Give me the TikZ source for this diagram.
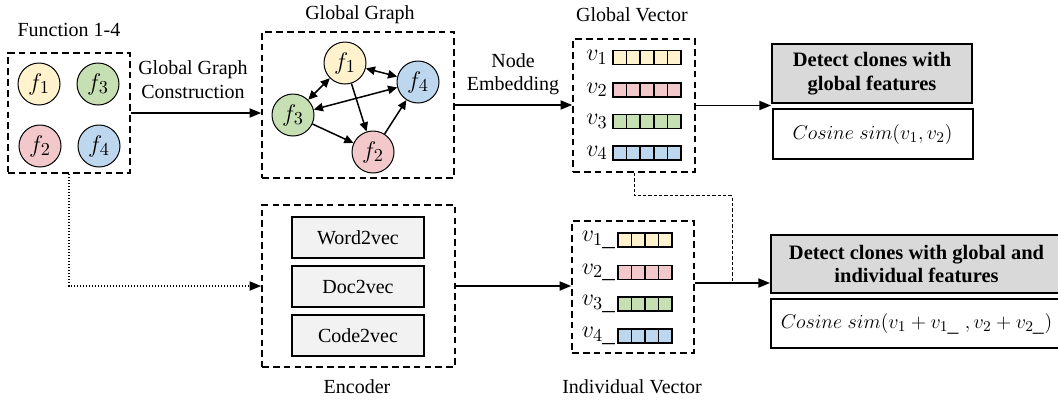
\documentclass[tikz,border=0pt]{standalone}
\usepackage{fontspec}
\setmainfont{Liberation Serif}
\usetikzlibrary{arrows.meta,calc}
\definecolor{cy}{HTML}{FFF2CC}
\definecolor{cp}{HTML}{F2C8CB}
\definecolor{cg}{HTML}{C6E0B4}
\definecolor{cb}{HTML}{BDD7EE}
\definecolor{encgray}{HTML}{F2F2F2}
\definecolor{detgray}{HTML}{D9D9D9}
\begin{document}
\begin{tikzpicture}[x=0.6pt,y=-0.6pt,
  font=\fontsize{12}{14}\selectfont,
  grp/.style={draw, dash pattern=on 4pt off 2.5pt, line width=1pt, inner sep=0pt},
  fn/.style={circle, draw, line width=0.6pt, minimum size=25.2pt, inner sep=0pt, font=\fontsize{15}{15}\selectfont},
  arr/.style={-{Triangle[length=7pt,width=5.5pt]}, line width=0.9pt},
  garr/.style={-{Triangle[length=5.5pt,width=5pt]}, line width=0.9pt},
  darr/.style={{Triangle[length=5.5pt,width=5pt]}-{Triangle[length=5.5pt,width=5pt]}, line width=0.9pt},
  encbx/.style={draw, line width=0.9pt, fill=encgray, minimum width=79.2pt, minimum height=24.6pt, inner sep=0pt},
  detbox/.style={draw, line width=1.2pt, fill=detgray, align=center, inner sep=0pt, font=\fontsize{12.3}{14}\selectfont\bfseries},
  cosbox/.style={draw, line width=1.2pt, fill=white, inner sep=0pt, font=\fontsize{13}{14}\selectfont},
  vlab/.style={anchor=east, inner sep=0pt, font=\fontsize{15}{15}\selectfont},
  cell/.style={draw, line width=0.9pt},
  ttl/.style={inner sep=0pt}
]
\useasboundingbox (0,0) rectangle (1058,400);

% group boxes
\node[grp, minimum width=73.2pt, minimum height=72pt] (fbox) at (69,113) {};
\node[grp, minimum width=115.2pt, minimum height=87.6pt] (ggbox) at (358,105) {};
\node[grp, minimum width=73.2pt, minimum height=79.8pt] (gvbox) at (634,105.5) {};
\node[grp, minimum width=115.8pt, minimum height=97.2pt] (encbox) at (358.5,286) {};
\node[grp, minimum width=73.2pt, minimum height=79.2pt] (ivbox) at (633,287) {};

% titles
\node[ttl] (tfun) at (69,30) {Function 1-4};
\node[ttl] (tgg) at (360,15) {Global Graph};
\node[ttl] (tgv) at (632,15) {Global Vector};
\node[ttl] (tenc) at (357,387) {Encoder};
\node[ttl] (tiv) at (632,387) {Individual Vector};
\node[ttl, align=center] (lggc) at (193,79.5) {Global Graph\\Construction};
\node[ttl, align=center] (lne) at (513,74) {Node\\Embedding};

% function circles
\node[fn, fill=cy] (a1) at (39,84) {$f_1$};
\node[fn, fill=cg] (a3) at (98,84) {$f_3$};
\node[fn, fill=cp] (a2) at (40,146) {$f_2$};
\node[fn, fill=cb] (a4) at (99,146) {$f_4$};

% global graph circles
\node[fn, fill=cy] (g1) at (345,63) {$f_1$};
\node[fn, fill=cb] (g4) at (418,82) {$f_4$};
\node[fn, fill=cg] (g3) at (293,115) {$f_3$};
\node[fn, fill=cp] (g2) at (373,152) {$f_2$};
\draw[darr] (g1) -- (g3);
\draw[darr] (g1) -- (g4);
\draw[darr] (g4) -- (g3);
\draw[garr] (g1) -- (g2);
\draw[garr] (g3) -- (g2);
\draw[garr] (g2) -- (g4);

% global vectors
\foreach \y/\c/\n in {57.5/cy/1, 90/cp/2, 121.5/cg/3, 153/cb/4} {
  \node[vlab] (gv\n) at (608,\y) {$v_\n$};
  \foreach \i in {0,...,4}
    \draw[cell, fill=\c] ({613+13.6*\i},{\y-7}) rectangle ++(13.6,14);
}
% individual vectors
\foreach \y/\c/\n in {240/cy/1, 272.5/cp/2, 304/cg/3, 336/cb/4} {
  \node[vlab] (iv\n) at (616,\y) {$v_{\n\_}$};
  \foreach \i in {0,...,3}
    \draw[cell, fill=\c] ({618+13.5*\i},{\y-7}) rectangle ++(13.5,14);
}

% encoder boxes
\node[encbx] (w2v) at (358,237.5) {Word2vec};
\node[encbx] (d2v) at (358,286.5) {Doc2vec};
\node[encbx] (c2v) at (358,335.5) {Code2vec};

% detect boxes
\node[detbox, minimum width=120pt, minimum height=35.4pt] (det1) at (872,73.5) {Detect clones with\\global features};
\node[cosbox, minimum width=120pt, minimum height=30pt] (cos1) at (872.5,134) {$Cosine\ sim(v_1,v_2)$};
\node[detbox, minimum width=174.6pt, minimum height=34.8pt] (det2) at (916.5,264) {Detect clones with global and\\individual features};
\node[cosbox, minimum width=174.6pt, minimum height=29.4pt] (cos2) at (916.5,323.5) {$Cosine\ sim(v_1+v_{1\_}\;,v_2+v_{2\_})$};

% connectors
\draw[arr] (fbox.east) -- (fbox.east -| ggbox.west);
\draw[arr] (ggbox.east) -- (ggbox.east -| gvbox.west);
\draw[arr] (gvbox.east) -- (gvbox.east -| det1.west);
\draw[arr, dash pattern=on 0.9pt off 0.9pt] (fbox.south) |- (encbox.west);
\draw[arr] (encbox.east) -- (encbox.east -| ivbox.west);
\coordinate (lo) at ($(ivbox.east)+(0,-4)$);
\draw[arr] (lo) -- (lo -| det2.west);
\coordinate (j) at (732,283);
\draw[line width=0.6pt, dash pattern=on 2pt off 1.2pt] (gvbox.south) -- ++(0,23) -| (j);
\end{tikzpicture}
\end{document}
